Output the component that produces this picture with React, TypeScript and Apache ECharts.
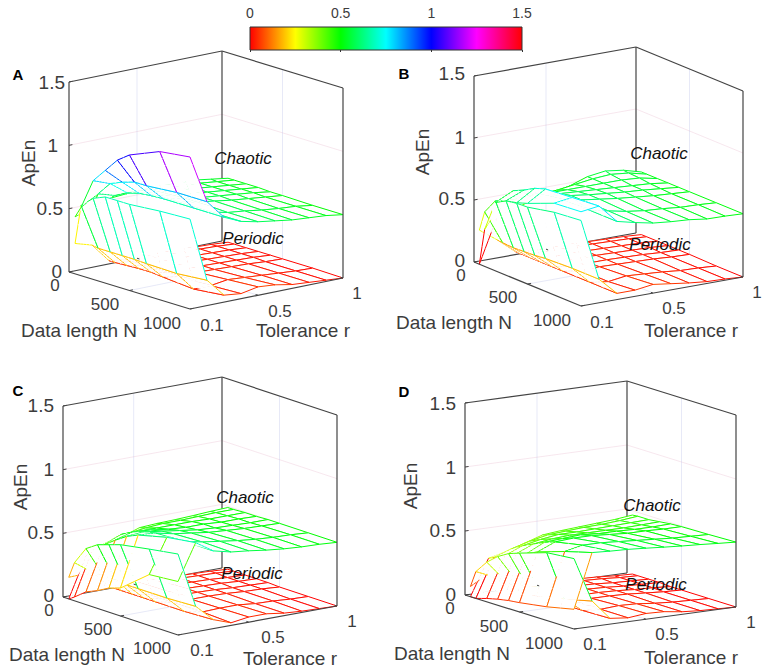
import React, { useEffect, useRef } from "react";
import * as echarts from "echarts";

const lengths = [50, 100, 200, 300, 400, 500, 750, 1000];
const tolerances = [0.1, 0.2, 0.3, 0.4, 0.5, 0.6, 0.7, 0.8, 0.9, 1.0];

const chaoticA = [
  [0.45, 0.54, 0.78, 0.89, 1.0, 1.07, 1.17, 1.2],
  [0.5, 0.62, 0.73, 0.77, 0.8, 0.8, 0.82, 0.82],
  [0.54, 0.58, 0.63, 0.655, 0.665, 0.67, 0.67, 0.67],
  [0.55, 0.58, 0.6, 0.61, 0.615, 0.615, 0.61, 0.61],
  [0.56, 0.57, 0.58, 0.585, 0.59, 0.59, 0.58, 0.58],
  [0.56, 0.56, 0.57, 0.57, 0.57, 0.57, 0.565, 0.56],
  [0.55, 0.55, 0.555, 0.555, 0.555, 0.55, 0.545, 0.54],
  [0.55, 0.54, 0.54, 0.54, 0.54, 0.535, 0.53, 0.53],
  [0.53, 0.525, 0.525, 0.525, 0.525, 0.52, 0.52, 0.52],
  [0.51, 0.51, 0.51, 0.51, 0.505, 0.505, 0.5, 0.5],
];
const periodicA = [
  [0.24, 0.555, 0.64, 0.68, 0.68, 0.68, 0.7, 0.71],
  [0.2, 0.19, 0.19, 0.19, 0.19, 0.185, 0.18, 0.2],
  [0.05, 0.05, 0.055, 0.06, 0.06, 0.05, 0.03, 0.055],
  [0.03, 0.03, 0.03, 0.03, 0.03, 0.03, 0.03, 0.04],
  [0.03, 0.03, 0.03, 0.03, 0.03, 0.035, 0.05, 0.066],
  [0.03, 0.03, 0.03, 0.03, 0.03, 0.03, 0.04, 0.055],
  [0.025, 0.025, 0.025, 0.025, 0.025, 0.025, 0.03, 0.03],
  [0.02, 0.02, 0.02, 0.02, 0.02, 0.02, 0.02, 0.02],
  [0.015, 0.015, 0.015, 0.015, 0.015, 0.01, 0.01, 0.01],
  [0.005, 0.005, 0.005, 0.005, 0.005, 0.005, 0.005, 0.0],
];
const chaoticB = [
  [0.0, 0.3, 0.55, 0.6, 0.62, 0.65, 0.74, 0.76],
  [0.36, 0.5, 0.62, 0.66, 0.71, 0.74, 0.76, 0.78],
  [0.4, 0.5, 0.57, 0.6, 0.62, 0.63, 0.63, 0.63],
  [0.44, 0.5, 0.55, 0.58, 0.6, 0.6, 0.6, 0.595],
  [0.47, 0.51, 0.55, 0.57, 0.58, 0.58, 0.57, 0.565],
  [0.5, 0.53, 0.55, 0.56, 0.565, 0.56, 0.55, 0.55],
  [0.55, 0.55, 0.55, 0.55, 0.55, 0.545, 0.54, 0.54],
  [0.57, 0.56, 0.55, 0.54, 0.54, 0.53, 0.525, 0.52],
  [0.55, 0.545, 0.54, 0.53, 0.525, 0.52, 0.52, 0.517],
  [0.51, 0.51, 0.51, 0.51, 0.51, 0.51, 0.51, 0.51],
];
const periodicB = [
  [0.275, 0.44, 0.565, 0.6, 0.615, 0.62, 0.667, 0.69],
  [0.17, 0.165, 0.16, 0.165, 0.17, 0.18, 0.19, 0.19],
  [0.05, 0.05, 0.05, 0.05, 0.05, 0.05, 0.05, 0.05],
  [0.03, 0.03, 0.03, 0.03, 0.03, 0.03, 0.03, 0.05],
  [0.03, 0.03, 0.03, 0.03, 0.03, 0.035, 0.05, 0.07],
  [0.03, 0.03, 0.03, 0.03, 0.03, 0.03, 0.04, 0.05],
  [0.025, 0.025, 0.025, 0.025, 0.025, 0.025, 0.03, 0.03],
  [0.02, 0.02, 0.02, 0.02, 0.02, 0.02, 0.015, 0.015],
  [0.015, 0.015, 0.015, 0.015, 0.01, 0.01, 0.01, 0.01],
  [0.005, 0.005, 0.005, 0.005, 0.005, 0.005, 0.0, 0.0],
];
const chaoticC = [
  [0.0, 0.03, 0.1, 0.14, 0.19, 0.22, 0.4, 0.42],
  [0.32, 0.37, 0.443, 0.51, 0.57, 0.61, 0.667, 0.7],
  [0.36, 0.42, 0.5, 0.55, 0.58, 0.6, 0.61, 0.61],
  [0.41, 0.45, 0.5, 0.54, 0.56, 0.57, 0.58, 0.576],
  [0.458, 0.47, 0.5, 0.52, 0.54, 0.55, 0.56, 0.56],
  [0.466, 0.48, 0.5, 0.51, 0.52, 0.53, 0.54, 0.54],
  [0.47, 0.48, 0.5, 0.51, 0.51, 0.52, 0.525, 0.525],
  [0.476, 0.485, 0.495, 0.5, 0.505, 0.51, 0.515, 0.515],
  [0.484, 0.49, 0.495, 0.5, 0.5, 0.505, 0.51, 0.51],
  [0.49, 0.49, 0.495, 0.495, 0.5, 0.5, 0.5, 0.5],
];
const periodicC = [
  [0.17, 0.3, 0.44, 0.5, 0.53, 0.56, 0.6, 0.636],
  [0.175, 0.2, 0.2, 0.2, 0.19, 0.19, 0.19, 0.2],
  [0.06, 0.06, 0.06, 0.06, 0.06, 0.06, 0.06, 0.07],
  [0.03, 0.03, 0.03, 0.03, 0.03, 0.03, 0.03, 0.02],
  [0.03, 0.03, 0.03, 0.03, 0.03, 0.03, 0.035, 0.04],
  [0.03, 0.03, 0.03, 0.03, 0.03, 0.03, 0.035, 0.04],
  [0.025, 0.025, 0.025, 0.025, 0.025, 0.025, 0.02, 0.02],
  [0.02, 0.02, 0.02, 0.02, 0.015, 0.015, 0.015, 0.01],
  [0.015, 0.015, 0.01, 0.01, 0.01, 0.01, 0.005, 0.005],
  [0.005, 0.005, 0.005, 0.005, 0.005, 0.0, 0.0, 0.0],
];
const chaoticD = [
  [0.0, 0.0, 0.026, 0.047, 0.063, 0.073, 0.107, 0.154],
  [0.28, 0.3, 0.34, 0.38, 0.41, 0.45, 0.52, 0.578],
  [0.315, 0.35, 0.4, 0.44, 0.48, 0.51, 0.55, 0.57],
  [0.36, 0.39, 0.43, 0.46, 0.49, 0.52, 0.55, 0.565],
  [0.406, 0.42, 0.45, 0.47, 0.5, 0.52, 0.54, 0.555],
  [0.42, 0.43, 0.45, 0.47, 0.49, 0.51, 0.53, 0.544],
  [0.43, 0.44, 0.455, 0.47, 0.49, 0.5, 0.52, 0.534],
  [0.44, 0.445, 0.46, 0.47, 0.485, 0.5, 0.51, 0.526],
  [0.45, 0.455, 0.465, 0.475, 0.485, 0.495, 0.505, 0.516],
  [0.466, 0.47, 0.47, 0.48, 0.49, 0.495, 0.5, 0.507],
];
const periodicD = [
  [0.08, 0.21, 0.31, 0.38, 0.43, 0.46, 0.53, 0.55],
  [0.16, 0.15, 0.15, 0.18, 0.17, 0.175, 0.146, 0.2],
  [0.04, 0.04, 0.04, 0.04, 0.04, 0.04, 0.04, 0.045],
  [0.03, 0.03, 0.03, 0.03, 0.03, 0.03, 0.03, 0.03],
  [0.03, 0.03, 0.03, 0.03, 0.03, 0.03, 0.04, 0.045],
  [0.03, 0.03, 0.03, 0.03, 0.03, 0.03, 0.035, 0.04],
  [0.025, 0.025, 0.025, 0.025, 0.025, 0.025, 0.02, 0.02],
  [0.02, 0.02, 0.015, 0.015, 0.015, 0.015, 0.01, 0.01],
  [0.01, 0.01, 0.01, 0.01, 0.01, 0.005, 0.005, 0.005],
  [0.005, 0.005, 0.005, 0.005, 0.0, 0.0, 0.0, 0.0],
];

const zTickLabels = ["0", "0.5", "1", "1.5"];
const nTickLabels = ["0", "500", "1000"];
const rTickLabels = ["0.1", "0.5", "1"];

const FONT = "'Liberation Sans', Arial, sans-serif";
const TXT = "#3c3c3c";

type Panel = {
  name: string;
  chaotic: number[][];
  periodic: number[][];
  o: number[];
  nv: number[];
  rv: number[];
  h: number;
  letter: number[];
  zL: number[][];
  nL: number[][];
  rL: number[][];
  dataL: number[];
  tolL: number[];
  apL: number[];
  chL: number[];
  peL: number[];
};

const panels: Panel[] = [
  {
    name: "A", chaotic: chaoticA, periodic: periodicA,
    o: [69, 272], nv: [121, 37], rv: [153, -31], h: 190,
    letter: [18, 74],
    zL: [[62, 271], [63, 208], [58, 145], [65, 82]],
    nL: [[55, 285], [105, 304], [162, 323]],
    rL: [[212, 325], [280, 311], [357, 293]],
    dataL: [79, 330], tolL: [303, 330], apL: [28, 163], chL: [243, 158], peL: [253, 238],
  },
  {
    name: "B", chaotic: chaoticB, periodic: periodicB,
    o: [474, 262], nv: [107, 44], rv: [162, -29], h: 186,
    letter: [404, 73],
    zL: [[465, 260], [465, 198], [465, 137], [465, 73]],
    nL: [[461, 275], [503, 297], [552, 320]],
    rL: [[602, 322], [674, 308], [757, 292]],
    dataL: [454, 322], tolL: [691, 330], apL: [422, 152], chL: [659, 153], peL: [660, 244],
  },
  {
    name: "C", chaotic: chaoticC, periodic: periodicC,
    o: [63, 597], nv: [115, 38], rv: [159, -29], h: 191,
    letter: [18, 390],
    zL: [[54, 595], [54, 532], [54, 469], [54, 405]],
    nL: [[49, 610], [98, 629], [152, 648]],
    rL: [[202, 650], [273, 637], [352, 621]],
    dataL: [67, 654], tolL: [290, 658], apL: [20, 487], chL: [245, 497], peL: [252, 573],
  },
  {
    name: "D", chaotic: chaoticD, periodic: periodicD,
    o: [465, 595], nv: [109, 34], rv: [162, -22], h: 192,
    letter: [404, 391],
    zL: [[456, 594], [456, 530], [456, 467], [456, 403]],
    nL: [[450, 608], [494, 626], [544, 643]],
    rL: [[595, 644], [667, 634], [751, 622]],
    dataL: [452, 653], tolL: [691, 657], apL: [410, 486], chL: [652, 505], peL: [656, 584],
  },
];

function hueColor(z: number) {
  const h = (((z / 1.5) * 6) % 6 + 6) % 6;
  const x = 1 - Math.abs((h % 2) - 1);
  const [r, g, b] =
    h < 1 ? [1, x, 0] : h < 2 ? [x, 1, 0] : h < 3 ? [0, 1, x] : h < 4 ? [0, x, 1] : h < 5 ? [x, 0, 1] : [1, 0, x];
  return `rgb(${Math.round(r * 255)},${Math.round(g * 255)},${Math.round(b * 255)})`;
}

function project(p: Panel, N: number, r: number, z: number) {
  const a = N / 1000;
  const b = (r - 0.1) / 0.9;
  return [p.o[0] + a * p.nv[0] + b * p.rv[0], p.o[1] + a * p.nv[1] + b * p.rv[1] - (z / 1.5) * p.h];
}

type Edge = { from: number; to: number; color: string };
type Cell = { pts: number[][]; edges: Edge[]; depth: number };

const lerp = (a: number, b: number, t: number) => a + (b - a) * t;

// Cells near the surfaces' crossing are cut into small pieces so that the hidden-line
// painting resolves where the two surfaces pass through each other.
function buildCells(p: Panel): Cell[] {
  const cells: Cell[] = [];
  [p.periodic, p.chaotic].forEach((s) => {
    for (let i = 0; i < tolerances.length - 1; i++) {
      for (let j = 0; j < lengths.length - 1; j++) {
        const nr = i < 2 ? 6 : 1;
        const nc = i < 2 ? 2 : 1;
        const at = (u: number, v: number) => [
          lerp(lengths[j], lengths[j + 1], v),
          lerp(tolerances[i], tolerances[i + 1], u),
          lerp(lerp(s[i][j], s[i][j + 1], v), lerp(s[i + 1][j], s[i + 1][j + 1], v), u),
        ];
        for (let a = 0; a < nr; a++) {
          for (let b = 0; b < nc; b++) {
            const u0 = a / nr, u1 = (a + 1) / nr, v0 = b / nc, v1 = (b + 1) / nc;
            const pts = [at(u0, v0), at(u0, v1), at(u1, v1), at(u1, v0)];
            const edges: Edge[] = [];
            if (a === 0) edges.push({ from: 0, to: 1, color: hueColor(s[i][j]) });
            if (a === nr - 1) edges.push({ from: 3, to: 2, color: hueColor(s[i + 1][j]) });
            if (b === 0) edges.push({ from: 0, to: 3, color: hueColor(s[i][j]) });
            if (b === nc - 1) edges.push({ from: 1, to: 2, color: hueColor(s[i][j + 1]) });
            const c = at((u0 + u1) / 2, (v0 + v1) / 2);
            cells.push({ pts, edges, depth: 115 * (c[0] / 1000) - 97 * ((c[1] - 0.1) / 0.9) + 40 * c[2] });
          }
        }
      }
    }
  });
  return cells.sort((a, b) => a.depth - b.depth);
}

function meshSeries(p: Panel) {
  const cells = buildCells(p);
  return {
    type: "custom",
    name: p.name,
    xAxisIndex: 0,
    yAxisIndex: 0,
    silent: true,
    clip: false,
    z: 3,
    progressive: 0,
    data: cells.map((_, k) => [k, k]),
    renderItem: (params: any, api: any) => {
      const c = cells[params.dataIndex];
      const pix = c.pts.map((q) => api.coord(project(p, q[0], q[1], q[2])));
      return {
        type: "group",
        children: [
          { type: "polygon", shape: { points: pix }, style: { fill: "#ffffff", stroke: "#ffffff", lineWidth: 0.4 } },
          ...c.edges.map((e) => ({
            type: "line",
            shape: { x1: pix[e.from][0], y1: pix[e.from][1], x2: pix[e.to][0], y2: pix[e.to][1] },
            style: { stroke: e.color, lineWidth: 1, fill: "none" },
          })),
        ],
      };
    },
  };
}

// Straight pieces of the box as [N, r, z, N, r, z]
const backBox = [
  [0, 0.1, 0, 0, 1, 0],
  [0, 1, 0, 0, 1, 1.5],
];
const box = [
  [0, 0.1, 0, 1000, 0.1, 0],
  [1000, 0.1, 0, 1000, 1, 0],
  [0, 0.1, 0, 0, 0.1, 1.5],
  [1000, 1, 0, 1000, 1, 1.5],
  [0, 0.1, 1.5, 0, 1, 1.5],
  [0, 1, 1.5, 1000, 1, 1.5],
];
const gridPink = [
  [0, 0.1, 1, 0, 1, 1],
  [0, 1, 1, 1000, 1, 1],
  [0, 0.1, 0.5, 0, 1, 0.5],
  [0, 1, 0.5, 1000, 1, 0.5],
];
const gridBlue = [
  [0, 0.5, 0, 0, 0.5, 1.5],
  [500, 1, 0, 500, 1, 1.5],
  [500, 0.1, 0, 500, 1, 0],
  [0, 0.5, 0, 1000, 0.5, 0],
];
const ticks3d = [
  [0, 0.1, 0.5, 0, 0.12, 0.5],
  [0, 0.1, 1, 0, 0.12, 1],
  [0, 0.1, 1.5, 0, 0.12, 1.5],
  [0, 0.1, 0, 0, 0.12, 0],
  [500, 0.1, 0, 500, 0.12, 0],
  [1000, 0.1, 0, 1000, 0.12, 0],
  [0, 0.5, 0, 20, 0.5, 0],
  [1000, 0.5, 0, 980, 0.5, 0],
  [1000, 1, 0, 980, 1, 0],
];

function segSeries(p: Panel, segs: number[][], stroke: string, lineWidth: number, z: number) {
  return {
    type: "custom",
    xAxisIndex: 0,
    yAxisIndex: 0,
    silent: true,
    clip: false,
    z,
    data: segs.map((_, k) => [k, k]),
    renderItem: (params: any, api: any) => {
      const q = segs[params.dataIndex];
      const u = api.coord(project(p, q[0], q[1], q[2]));
      const v = api.coord(project(p, q[3], q[4], q[5]));
      return {
        type: "line",
        shape: { x1: u[0], y1: u[1], x2: v[0], y2: v[1] },
        style: { stroke, lineWidth, fill: "none" },
      };
    },
  };
}

function txt(text: string, pos: number[], fontSize: number, extra: any = {}, styleExtra: any = {}) {
  return {
    type: "text",
    x: pos[0],
    y: pos[1],
    silent: true,
    z: 10,
    ...extra,
    style: {
      text,
      x: 0,
      y: 0,
      fontFamily: FONT,
      fontSize,
      fill: TXT,
      align: "center",
      verticalAlign: "middle",
      ...styleExtra,
    },
  };
}

function panelTexts(p: Panel) {
  const out: any[] = [];
  out.push(txt(p.name, p.letter, 15, {}, { fontWeight: "bold", fill: "#000" }));
  zTickLabels.forEach((t, i) => out.push(txt(t, p.zL[i], 19, {}, { align: "right", lineHeight: 13 })));
  nTickLabels.forEach((t, i) => out.push(txt(t, p.nL[i], 17, {}, { lineHeight: 13 })));
  rTickLabels.forEach((t, i) => out.push(txt(t, p.rL[i], 17, {}, { lineHeight: 13 })));
  out.push(txt("Data length N", p.dataL, 19));
  out.push(txt("Tolerance r", p.tolL, 19));
  out.push(txt("ApEn", p.apL, 19, { rotation: Math.PI / 2 }));
  out.push(txt("Chaotic", p.chL, 17, {}, { fontStyle: "italic", fill: "#111" }));
  out.push(txt("Periodic", p.peL, 17, {}, { fontStyle: "italic", fill: "#111" }));
  return out;
}

export default function App() {
  const ref = useRef<HTMLDivElement>(null);
  useEffect(() => {
    const chart = echarts.init(ref.current!, undefined, { renderer: "svg" });
    const stops = [0, 1, 2, 3, 4, 5, 6].map((k) => ({ offset: k / 6, color: hueColor((k % 6) * 0.25) }));
    const series: any[] = [];
    panels.forEach((p) => {
      series.push(segSeries(p, gridPink, "rgba(225,170,195,0.28)", 1, 1));
      series.push(segSeries(p, gridBlue, "rgba(170,175,225,0.28)", 1, 1));
      series.push(segSeries(p, backBox, "#444444", 1.2, 2));
      series.push(meshSeries(p));
      series.push(segSeries(p, box, "#444444", 1.2, 4));
      series.push(segSeries(p, ticks3d, "#444444", 1, 4));
    });
    chart.setOption({
      animation: false,
      backgroundColor: "#ffffff",
      grid: [
        { left: 0, top: 0, width: 767, height: 672, show: false },
        {
          left: 250,
          top: 27,
          width: 272,
          height: 23,
          show: true,
          borderColor: "#333333",
          borderWidth: 1,
          backgroundColor: new echarts.graphic.LinearGradient(0, 0, 1, 0, stops),
        },
      ],
      xAxis: [
        { gridIndex: 0, type: "value", min: 0, max: 767, show: false },
        {
          gridIndex: 1,
          type: "value",
          position: "top",
          min: 0,
          max: 1.5,
          interval: 0.5,
          splitLine: { show: false },
          axisLine: { show: false },
          axisTick: { show: true, inside: true, length: 2, lineStyle: { color: "#333" } },
          axisLabel: { fontFamily: FONT, fontSize: 14, color: TXT, margin: 7 },
        },
      ],
      yAxis: [
        { gridIndex: 0, type: "value", min: 0, max: 672, inverse: true, show: false },
        { gridIndex: 1, type: "value", min: 0, max: 1, show: false },
      ],
      series,
      graphic: { elements: panels.flatMap(panelTexts) },
    });
    return () => chart.dispose();
  }, []);
  return (
    <div
      ref={ref}
      style={{ position: "absolute", left: 0, top: 0, width: 767, height: 672, background: "#fff" }}
    />
  );
}
